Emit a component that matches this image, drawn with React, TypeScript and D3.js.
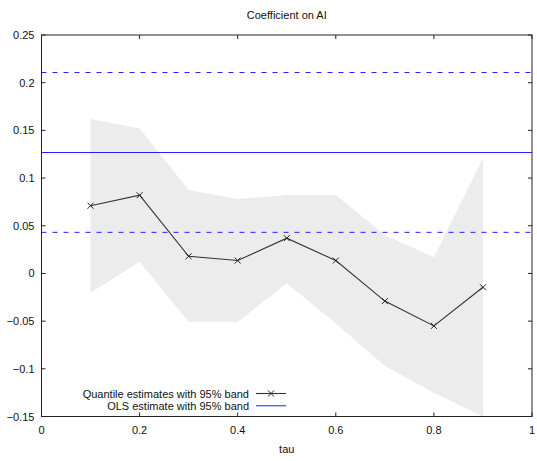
import React, { useRef, useEffect } from 'react';
import * as d3 from 'd3';

const taus = [0.1, 0.2, 0.3, 0.4, 0.5, 0.6, 0.7, 0.8, 0.9];
const qrEstimates = [0.071, 0.082, 0.018, 0.0135, 0.037, 0.0135, -0.029, -0.055, -0.0145];
const qrUpper = [0.162, 0.152, 0.0875, 0.078, 0.0823, 0.0823, 0.0403, 0.017, 0.121];
const qrLower = [-0.0203, 0.0123, -0.0508, -0.0508, -0.0102, -0.0524, -0.097, -0.125, -0.15];
const olsEstimate = 0.1268;
const olsBand = [0.0431, 0.2107];
const xTicks = [0, 0.2, 0.4, 0.6, 0.8, 1];
const yTicks = [-0.15, -0.1, -0.05, 0, 0.05, 0.1, 0.15, 0.2, 0.25];

const App: React.FC = () => {
  const svgRef = useRef<SVGSVGElement | null>(null);

  useEffect(() => {
    if (!svgRef.current) return;
    const svg = d3.select(svgRef.current);
    svg.selectAll('*').remove();

    const width = 537;
    const height = 461;
    const margin = { top: 35, right: 5, bottom: 44.5, left: 41.5 };
    const font = 'Liberation Sans, Arial, Helvetica, sans-serif';

    const x = d3.scaleLinear().domain([0, 1]).range([margin.left, width - margin.right]);
    const y = d3.scaleLinear().domain([-0.15, 0.25]).range([height - margin.bottom, margin.top]);

    const rows = taus.map((t, i) => ({ t, est: qrEstimates[i], lo: qrLower[i], hi: qrUpper[i] }));

    // confidence band
    svg.append('path')
      .datum(rows)
      .attr('fill', '#ececec')
      .attr('d', d3.area<typeof rows[0]>()
        .x(d => x(d.t))
        .y0(d => y(d.lo))
        .y1(d => y(d.hi)));

    // OLS lines
    svg.append('line')
      .attr('x1', x(0)).attr('x2', x(1))
      .attr('y1', y(olsEstimate)).attr('y2', y(olsEstimate))
      .attr('stroke', '#1f1fff').attr('stroke-width', 1);
    olsBand.forEach(v => {
      svg.append('line')
        .attr('x1', x(0)).attr('x2', x(1))
        .attr('y1', y(v)).attr('y2', y(v))
        .attr('stroke', '#1f1fff').attr('stroke-width', 1)
        .attr('stroke-dasharray', '5,6');
    });

    // quantile line
    svg.append('path')
      .datum(rows)
      .attr('fill', 'none')
      .attr('stroke', '#333')
      .attr('stroke-width', 1.1)
      .attr('d', d3.line<typeof rows[0]>().x(d => x(d.t)).y(d => y(d.est)));

    const cross = (g: d3.Selection<SVGGElement, unknown, null, undefined>, cx: number, cy: number) => {
      const s = 3;
      g.append('path')
        .attr('d', `M${cx - s},${cy - s}L${cx + s},${cy + s}M${cx - s},${cy + s}L${cx + s},${cy - s}`)
        .attr('stroke', '#222').attr('stroke-width', 1);
    };
    const marks = svg.append('g');
    rows.forEach(d => cross(marks, x(d.t), y(d.est)));

    // frame
    svg.append('rect')
      .attr('x', x(0)).attr('y', y(0.25))
      .attr('width', x(1) - x(0)).attr('height', y(-0.15) - y(0.25))
      .attr('fill', 'none').attr('stroke', '#222').attr('stroke-width', 1);

    const tickLen = 4;
    const axes = svg.append('g').attr('stroke', '#222').attr('stroke-width', 1);
    xTicks.forEach(t => {
      axes.append('line').attr('x1', x(t)).attr('x2', x(t)).attr('y1', y(-0.15)).attr('y2', y(-0.15) - tickLen);
      axes.append('line').attr('x1', x(t)).attr('x2', x(t)).attr('y1', y(0.25)).attr('y2', y(0.25) + tickLen);
    });
    yTicks.forEach(t => {
      axes.append('line').attr('x1', x(0)).attr('x2', x(0) + tickLen).attr('y1', y(t)).attr('y2', y(t));
      axes.append('line').attr('x1', x(1)).attr('x2', x(1) - tickLen).attr('y1', y(t)).attr('y2', y(t));
    });

    const labels = svg.append('g').attr('font-family', font).attr('font-size', 11).attr('fill', '#111');
    xTicks.forEach(t => {
      labels.append('text').attr('x', x(t)).attr('y', y(-0.15) + 17)
        .attr('text-anchor', 'middle').text(d3.format('')(t));
    });
    yTicks.forEach(t => {
      labels.append('text').attr('x', x(0) - 7).attr('y', y(t) + 4)
        .attr('text-anchor', 'end').text(t === 0 ? '0' : d3.format('')(+t.toFixed(2)));
    });

    labels.append('text').attr('x', (x(0) + x(1)) / 2).attr('y', 19)
      .attr('text-anchor', 'middle').text('Coefficient on AI');
    labels.append('text').attr('x', (x(0) + x(1)) / 2).attr('y', 453)
      .attr('text-anchor', 'middle').text('tau');

    // legend
    const lx = 249;
    const ly1 = 393.5;
    const ly2 = 405.8;
    labels.append('text').attr('x', lx).attr('y', ly1 + 4).attr('text-anchor', 'end')
      .text('Quantile estimates with 95% band');
    labels.append('text').attr('x', lx).attr('y', ly2 + 4).attr('text-anchor', 'end')
      .text('OLS estimate with 95% band');
    svg.append('line').attr('x1', 256).attr('x2', 286).attr('y1', ly1).attr('y2', ly1)
      .attr('stroke', '#333').attr('stroke-width', 1.1);
    cross(marks, 271, ly1);
    svg.append('line').attr('x1', 256).attr('x2', 286).attr('y1', ly2).attr('y2', ly2)
      .attr('stroke', '#1f1fff').attr('stroke-width', 1);
  }, []);

  return (
    <svg ref={svgRef} width={537} height={461}
      style={{ position: 'absolute', left: 0, top: 0, background: '#fff' }} />
  );
};

export default App;
